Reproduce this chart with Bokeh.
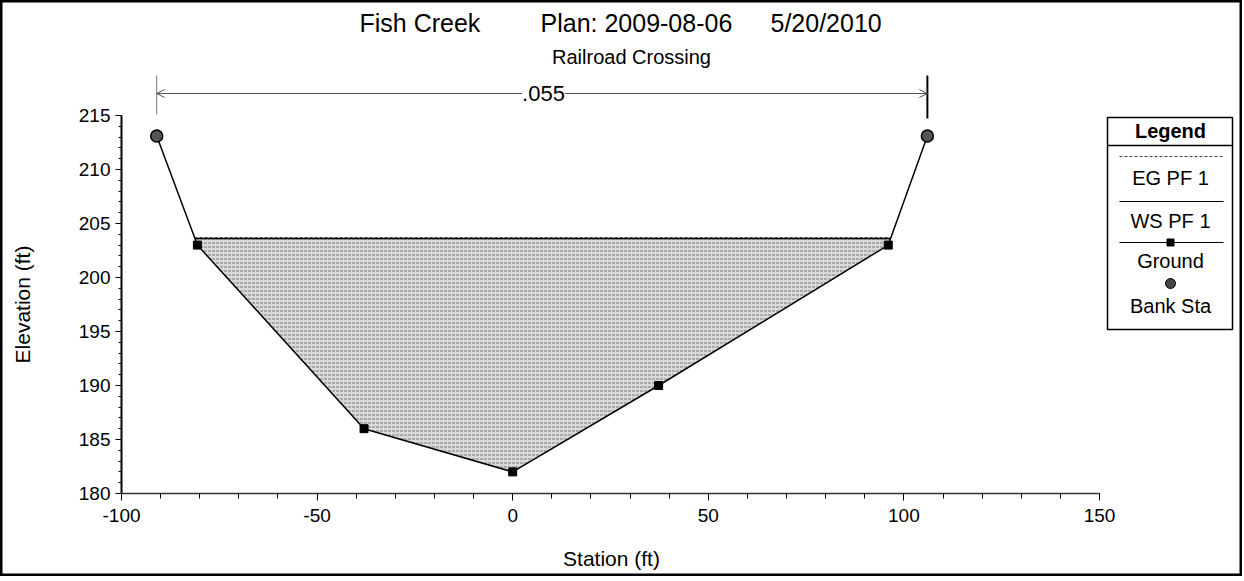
import math
import numpy as np
from bokeh.plotting import figure
from bokeh.models import (Label, Arrow, OpenHead, SingleIntervalTicker, Range1d,
                          PrintfTickFormatter)
from bokeh.core.properties import value
from bokeh.embed import file_html
from bokeh.resources import INLINE

# ---------------- data ----------------
ground_station = [-91.0, -80.6, -38.0, 0.0, 37.3, 96.0, 106.0]
ground_elev = [213.1, 203.0, 186.0, 182.0, 190.0, 203.0, 213.1]
bank_station = [-91.0, 106.0]
bank_elev = [213.1, 213.1]
ws_elev = 203.6
eg_elev = 203.7
mannings_n = ".055"
x_bounds = [-100, 150]
y_bounds = [180, 215]
title_parts = ["Fish Creek", "Plan: 2009-08-06", "5/20/2010"]
subtitle = "Railroad Crossing"
x_label = "Station (ft)"
y_label = "Elevation (ft)"
legend_title = "Legend"
legend_items = ["EG PF 1", "WS PF 1", "Ground", "Bank Sta"]

FONT = "Liberation Sans"
W, H = 1242, 576

# pixel -> data helpers (for decoration placement only)
XPX = 978.0 / 250.0
YPX = 378.0 / 35.0


def dx(px):
    return -100 + (px - 121) / XPX


def dy(py):
    return 180 + (493 - py) / YPX


p = figure(width=W, height=H, output_backend="svg", toolbar_location=None,
           x_range=Range1d(dx(0), dx(W)), y_range=Range1d(dy(H), dy(0)),
           min_border_left=0, min_border_right=0, min_border_top=0,
           min_border_bottom=0)
p.outline_line_color = "black"
p.outline_line_width = 4
p.grid.visible = False
p.background_fill_color = "white"
p.border_fill_color = "white"

# axes (fixed at the data corner so the whole canvas is the frame)
p.xaxis.fixed_location = y_bounds[0]
p.yaxis.fixed_location = x_bounds[0]
p.xaxis.bounds = tuple(x_bounds)
p.yaxis.bounds = tuple(y_bounds)
p.xaxis.ticker = SingleIntervalTicker(interval=50, num_minor_ticks=5)
p.yaxis.ticker = SingleIntervalTicker(interval=5, num_minor_ticks=5)
for ax in (p.xaxis, p.yaxis):
    ax.formatter = PrintfTickFormatter(format="%d")
    ax.major_label_text_font = FONT
    ax.major_label_text_font_size = "19px"
    ax.major_label_text_color = "black"
    ax.major_tick_in = 0
    ax.minor_tick_in = 0
    ax.major_tick_line_color = "black"
    ax.minor_tick_line_color = "black"
    ax.axis_line_color = "black"
p.xaxis.major_tick_out = 7
p.xaxis.minor_tick_out = 5
p.xaxis.major_label_standoff = 8
p.xaxis.axis_line_width = 1.5
p.xaxis.axis_line_color = "#333333"
p.yaxis.major_tick_out = 6
p.yaxis.minor_tick_out = 3
p.yaxis.major_label_standoff = 5
p.yaxis.axis_line_width = 2

# water fill
st = np.array(ground_station)
el = np.array(ground_elev)
below = np.where(el < ws_elev)[0]
i0, i1 = below[0], below[-1]
xl = float(np.interp(ws_elev, [el[i0], el[i0 - 1]], [st[i0], st[i0 - 1]]))
xr = float(np.interp(ws_elev, [el[i1], el[i1 + 1]], [st[i1], st[i1 + 1]]))
poly_x = [xl] + list(st[i0:i1 + 1]) + [xr]
poly_y = [ws_elev] + list(el[i0:i1 + 1]) + [ws_elev]
p.patch(poly_x, poly_y, fill_color="#d9d9d9", line_color=None,
        hatch_pattern="horizontal_dash", hatch_color="#5a5a5a",
        hatch_scale=4, hatch_weight=1, hatch_alpha=0.75)

exl = float(np.interp(eg_elev, [el[i0], el[i0 - 1]], [st[i0], st[i0 - 1]]))
exr = float(np.interp(eg_elev, [el[i1], el[i1 + 1]], [st[i1], st[i1 + 1]]))
p.line([exl, exr], [eg_elev, eg_elev], line_color="#555555", line_width=1,
       line_dash="3 2")
p.line([xl, xr], [ws_elev, ws_elev], line_color="black", line_width=1.5)

# ground
p.line(ground_station, ground_elev, line_color="black", line_width=1.5)
p.scatter(ground_station[1:-1], ground_elev[1:-1], marker="square", size=8,
          fill_color="black", line_color="black")
p.scatter(bank_station, bank_elev, marker="circle", size=12,
          fill_color="#555555", line_color="black", line_width=1.5)

# Manning's n bar
y_arrow = dy(93)
p.add_layout(Arrow(x_start=bank_station[0], x_end=bank_station[1],
                   y_start=y_arrow, y_end=y_arrow,
                   start=OpenHead(size=8, line_color="#555555", line_width=1),
                   end=OpenHead(size=8, line_color="#555555", line_width=1),
                   line_color="#555555", line_width=1))
p.segment(x0=[bank_station[0]], y0=[dy(114)], x1=[bank_station[0]], y1=[dy(75)],
          line_color="#777777", line_width=1)
p.segment(x0=[bank_station[1]], y0=[dy(118)], x1=[bank_station[1]], y1=[dy(75)],
          line_color="black", line_width=2)
p.add_layout(Label(x=dx(543), y=y_arrow, text=mannings_n, text_font=FONT,
                   text_font_size="22px", text_align="center",
                   text_baseline="middle", background_fill_color="white",
                   text_color="black"))

# titles
for txt, px0 in zip(title_parts, [359, 540, 770]):
    p.add_layout(Label(x=dx(px0), y=dy(22), text=txt, text_font=FONT,
                       text_font_size="25px", text_align="left",
                       text_baseline="middle", text_color="black"))
p.add_layout(Label(x=dx(631), y=dy(56), text=subtitle, text_font=FONT,
                   text_font_size="20px", text_align="center",
                   text_baseline="middle", text_color="black"))

# axis titles
p.add_layout(Label(x=dx(611), y=dy(558), text=x_label, text_font=FONT,
                   text_font_size="21px", text_align="center",
                   text_baseline="middle", text_color="black"))
p.add_layout(Label(x=dx(22), y=dy(304), text=y_label, text_font=FONT,
                   text_font_size="21px", text_align="center",
                   text_baseline="middle", angle=math.pi / 2,
                   text_color="black"))

# legend (manual)
lx0, lx1, lxc = dx(1107), dx(1232), dx(1170)
p.quad(left=[lx0], right=[lx1], top=[dy(117)], bottom=[dy(329)],
       fill_color="white", line_color="black", line_width=1.5)
p.line([lx0, lx1], [dy(145), dy(145)], line_color="black", line_width=1.5)
sx0, sx1 = dx(1119), dx(1223)
p.line([sx0, sx1], [dy(156), dy(156)], line_color="#444444", line_width=1,
       line_dash="3 2")
p.line([sx0, sx1], [dy(201), dy(201)], line_color="black", line_width=1)
p.line([sx0, sx1], [dy(242), dy(242)], line_color="black", line_width=1)
p.scatter([lxc], [dy(242)], marker="square", size=7, fill_color="black",
          line_color="black")
p.scatter([lxc], [dy(283)], marker="circle", size=10, fill_color="#444444",
          line_color="black")
p.text(x=[lxc], y=[dy(130)], text=[legend_title], text_font=value(FONT),
       text_font_size="20px", text_font_style="bold", text_align="center",
       text_baseline="middle", text_color="black")
p.text(x=[lxc] * 4, y=[dy(177), dy(220), dy(260), dy(305)], text=legend_items,
       text_font=value(FONT), text_font_size="20px", text_align="center",
       text_baseline="middle", text_color="black")

open("out.html", "w").write(file_html(p, INLINE))
